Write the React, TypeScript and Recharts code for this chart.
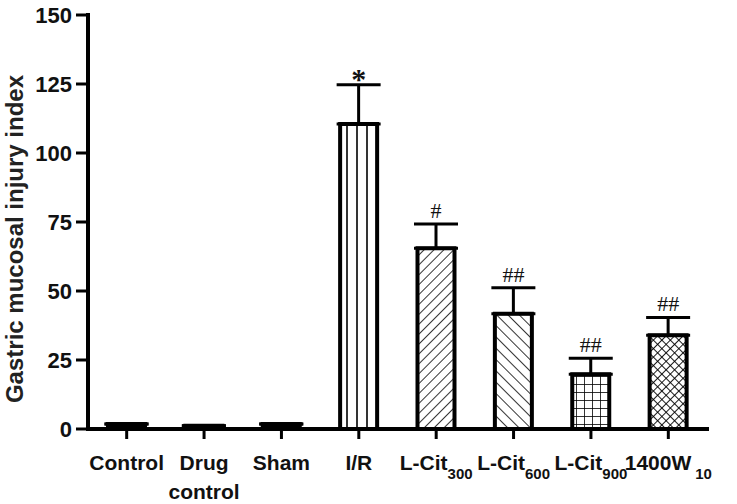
import { BarChart, Bar, XAxis, YAxis, ErrorBar, Cell, LabelList, Label } from "recharts";

// groups on the x axis
const groups = ["Control", "Drug control", "Sham", "I/R", "L-Cit300", "L-Cit600", "L-Cit900", "1400W10"];
const labelMain = ["Control", "Drug", "Sham", "I/R", "L-Cit", "L-Cit", "L-Cit", "1400W"];
const labelSecond = ["", "control", "", "", "", "", "", ""];
const labelSub = ["", "", "", "", "300", "600", "900", "10"];

// mean injury index and SEM (upper bar only)
const injuryIndex = [1.8, 1.2, 1.8, 110.5, 65.5, 41.8, 19.8, 34];
const sem = [0, 0, 0, 14.2, 8.8, 9.4, 5.8, 6.4];
const marks = ["", "", "", "*", "#", "##", "##", "##"];
const yTicks = [0, 25, 50, 75, 100, 125, 150];

const data = groups.map((g, i) => ({
  group: g,
  value: injuryIndex[i],
  err: [0, sem[i]],
}));

const fills = ["#000", "#000", "#000", "url(#vlines)", "url(#fwd)", "url(#back)", "url(#grid)", "url(#cross)"];

const FONT = "'Liberation Sans', Arial, sans-serif";

const XTick = (props: any) => {
  const { x, y, payload } = props;
  const i = groups.indexOf(payload.value);
  return (
    <g transform={`translate(${x},${y})`}>
      <text textAnchor="middle" y={29} fontSize={21} fontWeight="bold" fontFamily={FONT} fill="#111">
        {labelMain[i]}
        {labelSub[i] ? (
          <tspan fontSize={15} dy={9} dx={labelMain[i] === "1400W" ? 4 : 0}>
            {labelSub[i]}
          </tspan>
        ) : null}
      </text>
      {labelSecond[i] ? (
        <text textAnchor="middle" y={58} fontSize={21} fontWeight="bold" fontFamily={FONT} fill="#111">
          {labelSecond[i]}
        </text>
      ) : null}
    </g>
  );
};

const Mark = (props: any) => {
  const { x, y, width, height, index } = props;
  const m = marks[index];
  if (!m) return null;
  const k = height / injuryIndex[index];
  const top = y - sem[index] * k;
  const star = m === "*";
  return (
    <text
      x={x + width / 2}
      y={star ? top + 4 : top - 6}
      textAnchor="middle"
      fontSize={star ? 30 : 22}
      fontWeight={star ? "bold" : "normal"}
      fontFamily="'Liberation Serif', 'Times New Roman', serif"
      fill="#111"
    >
      {m}
    </text>
  );
};

export default function App() {
  return (
    <div style={{ position: "absolute", left: 0, top: 0, background: "#fff" }}>
      <BarChart width={737} height={504} data={data} margin={{ top: 15, right: 30, bottom: 0, left: 0 }}>
        <defs>
          <pattern id="vlines" width="10" height="10" patternUnits="userSpaceOnUse">
            <rect width="10" height="10" fill="#fff" />
            <line x1="7" y1="0" x2="7" y2="10" stroke="#000" strokeWidth="1.6" />
          </pattern>
          <pattern id="fwd" width="7" height="7" patternUnits="userSpaceOnUse" patternTransform="rotate(45)">
            <rect width="7" height="7" fill="#fff" />
            <line x1="0" y1="0" x2="0" y2="7" stroke="#000" strokeWidth="1.6" />
          </pattern>
          <pattern id="back" width="8" height="8" patternUnits="userSpaceOnUse" patternTransform="rotate(-45)">
            <rect width="8" height="8" fill="#fff" />
            <line x1="0" y1="0" x2="0" y2="8" stroke="#000" strokeWidth="1.6" />
          </pattern>
          <pattern id="grid" width="8" height="8" patternUnits="userSpaceOnUse">
            <rect width="8" height="8" fill="#fff" />
            <line x1="0" y1="0" x2="0" y2="8" stroke="#000" strokeWidth="1.6" />
            <line x1="0" y1="0" x2="8" y2="0" stroke="#000" strokeWidth="1.6" />
          </pattern>
          <pattern id="cross" width="6" height="6" patternUnits="userSpaceOnUse" patternTransform="rotate(45)">
            <rect width="6" height="6" fill="#fff" />
            <line x1="0" y1="0" x2="0" y2="6" stroke="#000" strokeWidth="1.8" />
            <line x1="0" y1="0" x2="6" y2="0" stroke="#000" strokeWidth="1.8" />
          </pattern>
        </defs>
        <XAxis
          dataKey="group"
          height={75}
          tick={<XTick />}
          tickSize={10}
          tickMargin={2}
          interval={0}
          axisLine={{ stroke: "#000", strokeWidth: 4, strokeLinecap: "square" }}
          tickLine={{ stroke: "#000", strokeWidth: 3 }}
        />
        <YAxis
          width={88}
          domain={[0, 150]}
          ticks={yTicks}
          tickSize={12}
          tickMargin={4}
          axisLine={{ stroke: "#000", strokeWidth: 4, strokeLinecap: "square" }}
          tickLine={{ stroke: "#000", strokeWidth: 3 }}
          tick={{ fill: "#111", fontSize: 22, fontWeight: "bold", fontFamily: FONT }}
        >
          <Label
            content={() => (
              <text
                transform="translate(23,239) rotate(-90)"
                textAnchor="middle"
                fontSize={24}
                fontWeight="bold"
                fontFamily={FONT}
                fill="#222"
              >
                Gastric mucosal injury index
              </text>
            )}
          />
        </YAxis>
        <Bar dataKey="value" stroke="#000" strokeWidth={4} barSize={37} isAnimationActive={false}>
          {data.map((d, i) => (
            <Cell key={d.group} fill={fills[i]} />
          ))}
          <ErrorBar dataKey="err" width={22} stroke="#000" strokeWidth={3} direction="y" />
          <LabelList dataKey="value" content={<Mark />} />
        </Bar>
      </BarChart>
    </div>
  );
}
